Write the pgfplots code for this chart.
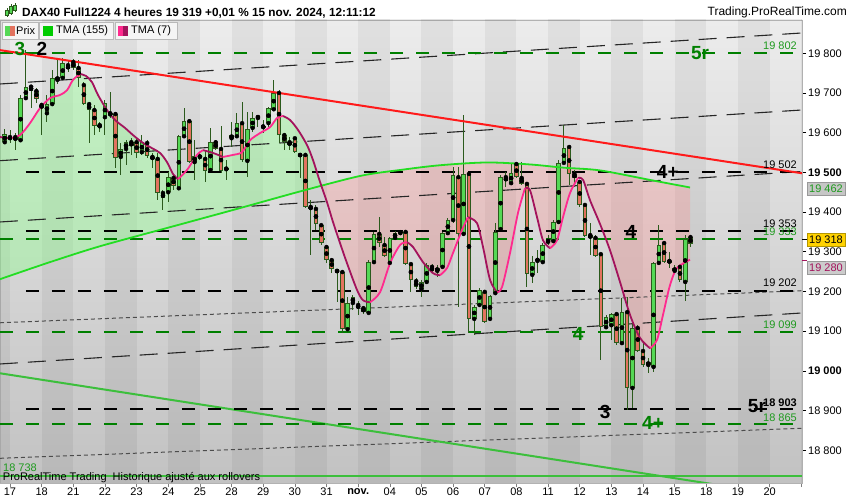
\documentclass[border=0pt]{standalone}
\usepackage{fontspec}
\setmainfont{Liberation Sans}
\usepackage{pgfplots}
\usepackage{pgfplotstable}
\pgfplotsset{compat=1.18}

\definecolor{bgtop}{HTML}{ECECEC}
\definecolor{bgbot}{HTML}{C2C2C2}
\definecolor{wick}{HTML}{2B5A1C}
\definecolor{upc}{HTML}{55D855}
\definecolor{dnc}{HTML}{E2735F}
\definecolor{tmaG}{HTML}{22DD22}
\definecolor{tmaD}{HTML}{A3135C}
\definecolor{tmaP}{HTML}{FF2A8E}
\definecolor{trendR}{HTML}{FF1A1A}
\definecolor{lvlG}{HTML}{008000}
\definecolor{lblG}{HTML}{1F9A1F}
\definecolor{grfill}{RGB}{140,255,140}
\definecolor{pkfill}{RGB}{255,140,140}
\definecolor{supG}{HTML}{3CBF3C}

% bougies : n = numero de la barre 4h (6 par jour, 0 = 1re barre du 17 oct.)
\pgfplotstableread{
n o h l c
-1 19576 19609 19571 19597
2 19581 19695 19579 19687
3 19687 19808 19685 19715
7 19649 19695 19627 19672
8 19672 19758 19670 19738
9 19733 19785 19722 19740
10 19738 19788 19733 19775
18 19639 19682 19594 19675
21 19539 19574 19493 19559
22 19559 19581 19518 19576
25 19551 19594 19544 19576
30 19450 19501 19425 19488
32 19460 19594 19455 19591
33 19591 19662 19589 19629
35 19526 19581 19481 19541
36 19539 19551 19531 19541
38 19506 19612 19501 19576
41 19508 19531 19481 19511
42 19586 19627 19564 19594
43 19591 19649 19589 19624
45 19529 19652 19488 19609
46 19612 19652 19602 19637
47 19637 19645 19614 19642
48 19614 19632 19599 19617
49 19624 19664 19614 19662
50 19659 19733 19657 19700
64 19105 19186 19098 19171
65 19171 19191 19153 19186
68 19146 19279 19143 19274
69 19274 19350 19272 19345
72 19272 19337 19262 19335
73 19335 19352 19330 19347
74 19347 19355 19345 19352
78 19206 19229 19186 19224
79 19224 19272 19219 19267
81 19252 19267 19236 19259
82 19262 19350 19259 19347
83 19347 19385 19345 19380
84 19380 19514 19372 19493
86 19345 19644 19342 19496
88 19131 19166 19090 19161
89 19166 19209 19161 19204
91 19131 19191 19126 19189
92 19196 19372 19191 19350
93 19357 19493 19355 19488
95 19473 19524 19471 19498
99 19242 19289 19221 19274
100 19277 19305 19247 19282
101 19274 19322 19272 19317
102 19325 19342 19317 19330
103 19327 19380 19325 19375
104 19375 19531 19372 19524
105 19524 19619 19521 19561
113 19110 19141 19105 19136
114 19115 19146 19078 19143
116 19070 19183 19065 19148
118 18957 19120 18906 19108
121 19015 19032 18994 19022
122 19010 19274 18997 19272
123 19272 19367 19267 19317
126 19252 19267 19249 19259
128 19224 19342 19176 19332
}\up

\pgfplotstableread{
n o h l c
0 19589 19607 19574 19584
1 19589 19599 19556 19581
4 19716 19720 19662 19706
5 19705 19712 19675 19685
6 19670 19675 19594 19662
11 19770 19783 19753 19760
12 19778 19785 19758 19763
13 19763 19783 19715 19738
14 19720 19728 19670 19672
15 19672 19677 19574 19657
16 19657 19670 19594 19617
17 19619 19627 19602 19614
19 19649 19702 19637 19644
20 19647 19652 19511 19536
23 19576 19586 19544 19566
24 19576 19589 19536 19549
26 19574 19581 19536 19541
27 19539 19549 19511 19534
28 19534 19549 19430 19450
29 19448 19455 19405 19435
31 19486 19493 19455 19466
34 19629 19632 19523 19526
37 19534 19556 19476 19503
39 19576 19581 19556 19559
40 19559 19617 19498 19503
44 19624 19677 19526 19531
51 19700 19707 19574 19594
52 19594 19599 19556 19576
53 19576 19589 19556 19569
54 19586 19589 19549 19551
55 19544 19546 19486 19543
56 19544 19546 19410 19413
57 19413 19430 19292 19408
58 19408 19418 19355 19370
59 19367 19370 19317 19322
60 19312 19317 19272 19279
61 19279 19284 19247 19257
62 19252 19254 19174 19251
63 19249 19254 19095 19105
66 19166 19176 19141 19158
67 19158 19163 19143 19148
70 19345 19388 19312 19322
71 19317 19337 19287 19289
75 19350 19355 19267 19269
76 19269 19272 19199 19229
77 19226 19234 19206 19211
80 19262 19269 19247 19252
85 19488 19514 19161 19345
87 19496 19498 19095 19131
90 19199 19204 19121 19123
94 19488 19501 19463 19478
96 19521 19526 19486 19488
97 19486 19526 19468 19471
98 19471 19473 19211 19244
106 19564 19566 19468 19496
107 19496 19506 19463 19486
108 19476 19481 19413 19418
109 19418 19423 19337 19340
110 19342 19372 19292 19335
111 19335 19342 19287 19289
112 19294 19297 19027 19110
115 19143 19146 19065 19070
117 19148 19186 18901 18957
119 19108 19115 19047 19050
120 19050 19070 19010 19015
124 19322 19327 19272 19274
125 19277 19299 19259 19274
127 19262 19267 19224 19229
129 19337 19340 19312 19319
}\dn

% TMA (7) ; s : 1 hausse, -1 baisse, 0 point de retournement
\pgfplotstableread{
n p s
-1.90 19589 -1
0.00 19586 0
1.90 19594 1
3.79 19624 1
5.69 19662 1
7.58 19687 1
9.48 19695 1
10.81 19707 1
11.94 19733 1
13.27 19748 0
14.41 19743 -1
15.55 19727 -1
16.68 19695 -1
18.39 19657 -1
19.91 19632 -1
21.80 19612 -1
23.32 19594 -1
25.02 19576 -1
26.92 19561 -1
28.44 19549 -1
29.76 19526 -1
30.90 19496 -1
31.85 19483 0
33.55 19506 1
35.45 19544 1
36.59 19556 0
38.48 19549 -1
40.38 19539 0
42.27 19544 1
43.98 19551 1
45.50 19581 1
47.39 19599 1
49.29 19614 1
50.62 19637 1
51.75 19642 0
53.08 19632 -1
54.60 19607 -1
56.30 19569 -1
57.44 19531 -1
58.77 19476 -1
60.09 19425 -1
61.23 19375 -1
62.56 19322 -1
63.89 19271 -1
65.78 19204 -1
66.92 19178 -1
68.25 19173 0
70.14 19198 1
72.04 19271 1
73.93 19317 1
75.26 19324 0
76.40 19312 -1
78.29 19274 -1
80.19 19246 -1
81.52 19241 0
82.84 19259 1
83.98 19297 1
85.69 19355 1
86.82 19387 0
88.53 19372 -1
89.67 19312 -1
91.00 19229 -1
92.32 19198 0
93.27 19211 1
94.79 19297 1
96.30 19398 1
97.63 19460 0
98.58 19455 -1
99.91 19387 -1
101.04 19329 -1
102.37 19309 0
103.70 19329 1
104.83 19387 1
106.16 19448 1
107.68 19486 0
108.63 19481 -1
109.95 19430 -1
111.85 19370 -1
113.74 19304 -1
115.64 19224 -1
117.54 19141 -1
119.43 19083 -1
121.33 19057 0
122.65 19078 1
123.79 19141 1
125.12 19216 1
126.45 19259 1
128.91 19280 1
}\tmasept

% TMA (155)
\pgfplotstableread{
n p
-1.90 19231
7.58 19274
17.06 19314
30.33 19362
43.03 19408
54.98 19452
66.35 19491
73.93 19506
81.52 19518
90.43 19525
98.58 19520
104.83 19512
111.85 19505
121.33 19481
128.91 19462
}\tmacent

\begin{document}
\begin{tikzpicture}[
  lvlB/.style={black, line width=2pt, dash pattern=on 13pt off 13pt},
  lvlV/.style={lvlG, line width=2pt, dash pattern=on 13pt off 13pt},
  canal/.style={black!85, line width=1.1pt, dash pattern=on 18pt off 10pt},
  pointille/.style={black!70, line width=1pt, dash pattern=on 4pt off 3pt},
  lbl/.style={anchor=east, inner sep=0pt, font=\fontsize{11}{13}\selectfont},
  big/.style={inner sep=0pt, font=\bfseries\fontsize{19}{21}\selectfont},
  vbox/.style={draw=gray!80, inner sep=0pt, minimum width=38pt, minimum height=13pt, font=\fontsize{11}{13}\selectfont},
]
\useasboundingbox (0pt,0pt) rectangle (850pt,500pt);
\begin{axis}[
  at={(0pt,17pt)}, anchor=south west,
  scale only axis, width=802pt, height=463pt,
  xmin=-1.896, xmax=150.14, ymin=18717.6, ymax=19883.9,
  enlargelimits=false,
  scaled y ticks=false, scaled x ticks=false,
  axis background/.style={top color=bgtop, bottom color=bgbot},
  axis line style={draw=gray!60, line width=0.6pt},
  xtick={0,6,...,150},
  xticklabels={17,18,21,22,23,24,25,28,29,30,31,\textbf{nov.},04,05,06,07,08,11,12,13,14,15,18,19,20,{}},
  ytick={18800,18900,...,19800},
  yticklabels={18 800,18 900,\textbf{19 000},19 100,19 200,19 300,19 400,\textbf{19 500},19 600,19 700,19 800},
  xtick pos=left, ytick pos=right, yticklabel pos=right,
  tick align=outside, major tick length=4pt,
  xtick style={gray, line width=0.6pt},
  ytick style={black, line width=0.6pt},
  ticklabel style={font=\fontsize{11}{13}\selectfont},
  xticklabel style={inner sep=1pt},
  yticklabel style={inner sep=2pt},
]
% bandes des jours (un jour sur deux plus sombre)
\addplot[black, opacity=0.05, line width=31.65pt, mark=none, unbounded coords=jump, forget plot] coordinates {
(-3,18600) (-3,20000) (3,nan) (9,18600) (9,20000) (15,nan) (21,18600) (21,20000) (27,nan)
(33,18600) (33,20000) (39,nan) (45,18600) (45,20000) (51,nan) (57,18600) (57,20000) (63,nan)
(69,18600) (69,20000) (75,nan) (81,18600) (81,20000) (87,nan) (93,18600) (93,20000) (99,nan)
(105,18600) (105,20000) (111,nan) (117,18600) (117,20000) (123,nan) (129,18600) (129,20000) (135,nan)
(141,18600) (141,20000) (147,nan) (153,18600) (153,20000)};

% zone entre TMA(7) et TMA(155) : verte au-dessus, rose en dessous
\addplot[draw=none, fill=grfill, fill opacity=0.4, forget plot] coordinates {
(-1.90,19589) (0.00,19586) (1.90,19594) (3.79,19624) (5.69,19662) (7.58,19687) (9.48,19695)
(10.81,19707) (11.94,19733) (13.27,19748) (14.41,19743) (15.55,19727) (16.68,19695) (18.39,19657)
(19.91,19632) (21.80,19612) (23.32,19594) (25.02,19576) (26.92,19561) (28.44,19549) (29.76,19526)
(30.90,19496) (31.85,19483) (33.55,19506) (35.45,19544) (36.59,19556) (38.48,19549) (40.38,19539)
(42.27,19544) (43.98,19551) (45.50,19581) (47.39,19599) (49.29,19614) (50.62,19637) (51.75,19642)
(53.08,19632) (54.60,19607) (56.30,19569) (57.44,19531) (58.77,19476) (59.03,19466)
(54.98,19452) (43.03,19408) (30.33,19362) (17.06,19314) (7.58,19274) (-1.90,19231)} -- cycle;
\addplot[draw=none, fill=pkfill, fill opacity=0.3, forget plot] coordinates {
(59.03,19466) (60.09,19425) (61.23,19375) (62.56,19322) (63.89,19271) (65.78,19204) (66.92,19178)
(68.25,19173) (70.14,19198) (72.04,19271) (73.93,19317) (75.26,19324) (76.40,19312) (78.29,19274)
(80.19,19246) (81.52,19241) (82.84,19259) (83.98,19297) (85.69,19355) (86.82,19387) (88.53,19372)
(89.67,19312) (91.00,19229) (92.32,19198) (93.27,19211) (94.79,19297) (96.30,19398) (97.63,19460)
(98.58,19455) (99.91,19387) (101.04,19329) (102.37,19309) (103.70,19329) (104.83,19387) (106.16,19448)
(107.68,19486) (108.63,19481) (109.95,19430) (111.85,19370) (113.74,19304) (115.64,19224) (117.54,19141)
(119.43,19083) (121.33,19057) (122.65,19078) (123.79,19141) (125.12,19216) (126.45,19259) (128.91,19280)
(128.91,19462) (121.33,19481) (111.85,19505) (104.83,19512) (98.58,19520) (90.43,19525) (81.52,19518)
(73.93,19506) (66.35,19491)} -- cycle;

% canal et droites
\addplot[canal] coordinates {(-1.896,19722.7) (150.14,19851.2)};
\addplot[canal] coordinates {(-1.896,19529.5) (150.14,19657.2)};
\addplot[canal] coordinates {(-1.896,19375.1) (150.14,19502.3)};
\addplot[canal] coordinates {(-1.896,19017.4) (150.14,19145.9)};
\addplot[pointille] coordinates {(-1.896,19121.2) (150.14,19202.0)};
\addplot[pointille] coordinates {(-1.896,18779.8) (150.14,18855.4)};
\addplot[supG, line width=2pt] coordinates {(-1.896,18994.0) (150.14,18679.8)};
\addplot[supG, line width=2pt] coordinates {(-1.896,18736) (150.14,18736)};

% niveaux horizontaux
\addplot[lvlV] coordinates {(-1.896,19802) (150.14,19802)};
\addplot[lvlB] coordinates {(3.03,19502) (150.14,19502)};
\addplot[lvlB] coordinates {(3.03,19353) (150.14,19353)};
\addplot[lvlV] coordinates {(-1.896,19333) (150.14,19333)};
\addplot[lvlB] coordinates {(3.03,19202) (150.14,19202)};
\addplot[lvlV] coordinates {(-1.896,19099) (150.14,19099)};
\addplot[lvlB] coordinates {(3.03,18903) (150.14,18903)};
\addplot[lvlV] coordinates {(-1.896,18865) (150.14,18865)};

% meches
\addplot[only marks, mark=none, error bars/.cd, y dir=both, y explicit, error mark=none,
  error bar style={wick, line width=1pt}]
  table[x=n, y=o, y error plus expr=\thisrow{h}-\thisrow{o}, y error minus expr=\thisrow{o}-\thisrow{l}] {\up};
\addplot[only marks, mark=none, error bars/.cd, y dir=both, y explicit, error mark=none,
  error bar style={wick, line width=1pt}]
  table[x=n, y=o, y error plus expr=\thisrow{h}-\thisrow{o}, y error minus expr=\thisrow{o}-\thisrow{l}] {\dn};
% corps
\addplot[only marks, mark=none, error bars/.cd, y dir=both, y explicit, error mark=none,
  error bar style={wick, line width=4.6pt}]
  table[x=n, y expr=(\thisrow{o}+\thisrow{c})/2, y error expr={abs(\thisrow{c}-\thisrow{o})/2+0.6}] {\up};
\addplot[only marks, mark=none, error bars/.cd, y dir=both, y explicit, error mark=none,
  error bar style={upc, line width=2.6pt}]
  table[x=n, y expr=(\thisrow{o}+\thisrow{c})/2, y error expr={max(abs(\thisrow{c}-\thisrow{o})/2-1.9,0)}] {\up};
\addplot[only marks, mark=none, error bars/.cd, y dir=both, y explicit, error mark=none,
  error bar style={wick, line width=4.6pt}]
  table[x=n, y expr=(\thisrow{o}+\thisrow{c})/2, y error expr={abs(\thisrow{c}-\thisrow{o})/2+0.6}] {\dn};
\addplot[only marks, mark=none, error bars/.cd, y dir=both, y explicit, error mark=none,
  error bar style={dnc, line width=2.6pt}]
  table[x=n, y expr=(\thisrow{o}+\thisrow{c})/2, y error expr={max(abs(\thisrow{c}-\thisrow{o})/2-1.9,0)}] {\dn};

% moyennes mobiles
\addplot[tmaG, line width=1.8pt, smooth] table[x=n, y=p] {\tmacent};
\addplot[tmaD, line width=1.8pt, smooth, unbounded coords=jump,
  restrict expr to domain={\thisrow{s}}{-1.5:0.5}] table[x=n, y=p] {\tmasept};
\addplot[tmaP, line width=1.8pt, smooth, unbounded coords=jump,
  restrict expr to domain={\thisrow{s}}{-0.5:1.5}] table[x=n, y=p] {\tmasept};
% oblique rouge
\addplot[trendR, line width=2pt] coordinates {(-1.896,19808) (150.14,19497.8)};

% etiquettes des niveaux
\node[lbl, text=lblG] at (axis cs:149.2,19818) {19 802};
\node[lbl] at (axis cs:149.2,19519) {19 502};
\node[lbl] at (axis cs:149.2,19370) {19 353};
\node[lbl, text=lblG] at (axis cs:149.2,19350) {19 333};
\node[lbl] at (axis cs:149.2,19221) {19 202};
\node[lbl, text=lblG] at (axis cs:149.2,19116) {19 099};
\node[lbl, font=\bfseries\fontsize{11}{13}\selectfont] at (axis cs:149.2,18919) {18 903};
\node[lbl, text=lblG] at (axis cs:149.2,18881) {18 865};
\node[lbl, anchor=west, text=lblG] at (axis cs:-1.33,18757) {18 738};
\node[lbl, anchor=west] at (axis cs:-1.38,18731) {ProRealTime Trading\ \ Historique ajusté aux rollovers};

% reperes
\node[big, text=lvlG] at (axis cs:1.9,19811) {3};
\node[big] at (axis cs:6.07,19811) {2};
\node[big, text=lvlG] at (axis cs:130.8,19801) {5r};
\node[big] at (axis cs:124.7,19501) {4+};
\node[big] at (axis cs:117.7,19350) {4};
\node[big, text=lvlG] at (axis cs:107.7,19093) {4};
\node[big] at (axis cs:112.8,18897) {3};
\node[big] at (axis cs:141.6,18912) {5r};
\node[big, text=lvlG] at (axis cs:121.9,18869) {4+};
\end{axis}

% bandeau du haut
\node[anchor=west, inner sep=0pt, font=\bfseries\fontsize{11.8}{14}\selectfont] at (22pt,487.3pt)
  {DAX40 Full1224 4 heures 19 319 +0,01 \% 15 nov. 2024, 12:11:12};
\node[anchor=east, inner sep=0pt, font=\fontsize{12}{14}\selectfont] at (847pt,487.3pt) {Trading.ProRealTime.com};
\draw[wick, line width=0.8pt] (7pt,483pt) -- (7pt,492pt) (11pt,485pt) -- (11pt,496pt) (15pt,488pt) -- (15pt,497pt);
\filldraw[draw=wick, fill=upc, line width=0.5pt] (5.5pt,485pt) rectangle (8.5pt,490pt);
\filldraw[draw=wick, fill=upc, line width=0.5pt] (9.5pt,487pt) rectangle (12.5pt,494pt);
\filldraw[draw=wick, fill=upc, line width=0.5pt] (13.5pt,490pt) rectangle (16.5pt,495pt);

% legende
\begin{scope}[font=\fontsize{11}{13}\selectfont]
\filldraw[fill=white!96!black, draw=gray!55] (2pt,460.7pt) rectangle (38pt,477.3pt);
\fill[upc] (5pt,464pt) rectangle (10pt,474pt);
\fill[dnc] (10pt,464pt) rectangle (15pt,474pt);
\node[anchor=west, inner sep=0pt] at (16pt,469pt) {Prix};
\filldraw[fill=white!96!black, draw=gray!55] (39pt,460.7pt) rectangle (113pt,477.3pt);
\fill[green!80!black] (43pt,464pt) rectangle (53pt,474pt);
\node[anchor=west, inner sep=0pt] at (56pt,469pt) {TMA (155)};
\filldraw[fill=white!96!black, draw=gray!55] (115pt,460.7pt) rectangle (177pt,477.3pt);
\fill[tmaP] (118pt,464pt) rectangle (123pt,474pt);
\fill[tmaD] (123pt,464pt) rectangle (128pt,474pt);
\node[anchor=west, inner sep=0pt] at (131pt,469pt) {TMA (7)};
\end{scope}

% valeurs courantes
\node[vbox, fill=gray!45, text=lblG] at (826pt,311.7pt) {19 462};
\draw[black, line width=1pt] (802pt,260pt) -- (807pt,260pt);
\node[vbox, fill={rgb,255:red,255;green,210;blue,0}, draw={rgb,255:red,180;green,150;blue,0}] at (826pt,260.5pt) {19 318};
\draw[tmaD, line width=1pt] (802pt,239pt) -- (807pt,239pt);
\node[vbox, fill=gray!40, text=tmaD] at (826pt,232.5pt) {19 280};
\end{tikzpicture}
\end{document}
